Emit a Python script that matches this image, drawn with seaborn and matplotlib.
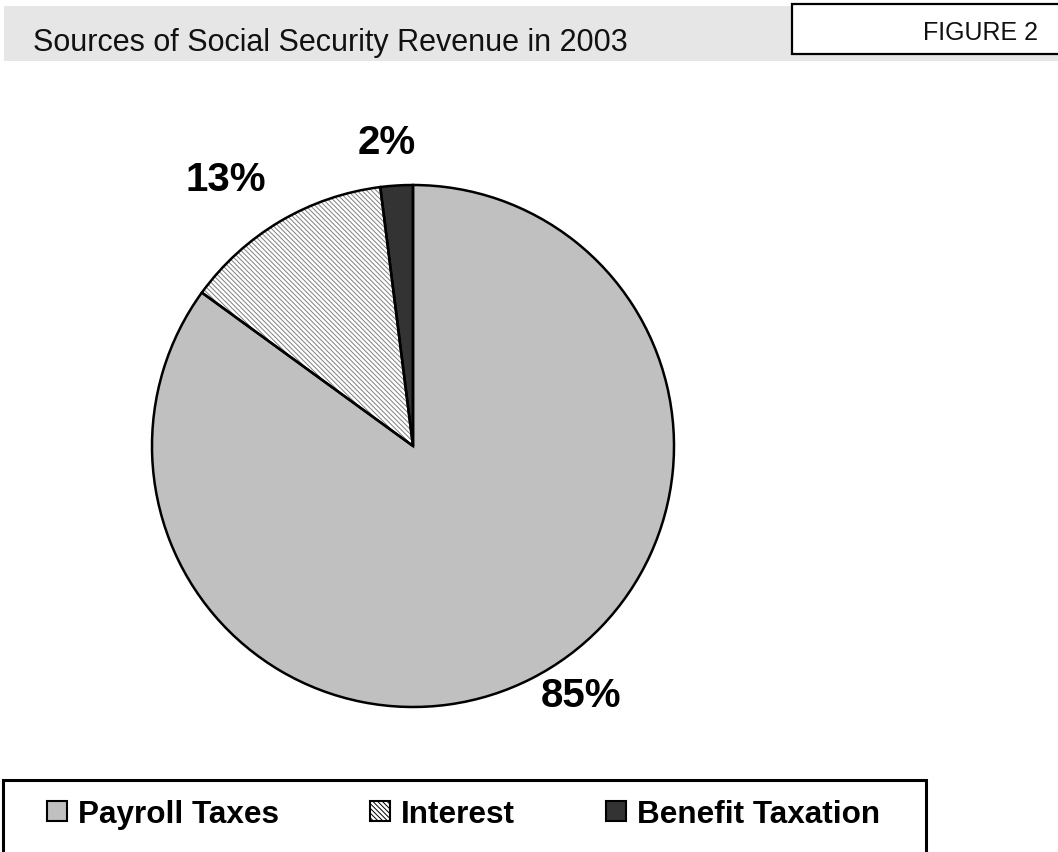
import matplotlib
matplotlib.use("Agg")
import matplotlib.pyplot as plt
from matplotlib.patches import Rectangle, Patch
import numpy as np
import seaborn as sns

# ---- data ----
categories = ["Payroll Taxes", "Interest", "Benefit Taxation"]
shares = [85, 13, 2]
pct_labels = ["85%", "13%", "2%"]
title_text = "Sources of Social Security Revenue in 2003"
figure_tag = "FIGURE 2"

# ---- style ----
sns.set_theme(style="white")
plt.rcParams["font.family"] = ["Liberation Sans", "DejaVu Sans"]
plt.rcParams["hatch.linewidth"] = 0.7
plt.rcParams["text.color"] = "black"
plt.rcParams["legend.labelcolor"] = "black"

face_colors = ["#c0c0c0", "#ffffff", "#333333"]
hatches = [None, "\\\\\\\\\\\\\\", None]
label_layout = [(-56, 1.15), (125, 1.25), (95, 1.17)]  # (angle deg, radius factor)

W, H = 1058, 853
fig = plt.figure(figsize=(W / 100, H / 100), dpi=100)

def fx(x):
    return x / W

def fy(y):
    return 1 - y / H

# header band
fig.patches.append(Rectangle((fx(4), fy(62)), fx(1058 - 4), (62 - 7) / H,
                             transform=fig.transFigure, facecolor="#e6e6e6",
                             edgecolor="none", zorder=0))
fig.patches.append(Rectangle((fx(792), fy(55)), fx(300), (55 - 5) / H,
                             transform=fig.transFigure, facecolor="white",
                             edgecolor="black", linewidth=1.6, zorder=1))
fig.text(fx(33), fy(43), title_text, fontsize=22, va="center", ha="left",
         color="#111111")
fig.text(fx(923), fy(33), figure_tag, fontsize=18, va="center", ha="left",
         color="#111111")

# pie axes
cx, cy, r = 413, 447, 261
ax = fig.add_axes([fx(cx - r), fy(cy + r), 2 * r / W, 2 * r / H])
ax.set_xlim(-1, 1)
ax.set_ylim(-1, 1)
ax.axis("off")

wedges, _ = ax.pie(shares, colors=face_colors, startangle=90, counterclock=False,
                   radius=1, center=(0, 0), frame=True,
                   wedgeprops=dict(linewidth=0, edgecolor="#808080"))
for w, h in zip(wedges, hatches):
    if h:
        w.set_hatch(h)
ax.pie(shares, colors=["none"] * 3, startangle=90, counterclock=False,
       radius=1, center=(0, 0), frame=True,
       wedgeprops=dict(linewidth=1.8, edgecolor="black", fill=False))
ax.set_xlim(-1, 1)
ax.set_ylim(-1, 1)
ax.axis("off")

for lbl, (ang, dist) in zip(pct_labels, label_layout):
    a = np.deg2rad(ang)
    ax.text(dist * np.cos(a), dist * np.sin(a), lbl, fontsize=29, fontweight="bold",
            ha="center", va="center", clip_on=False, color="black")

# legend frame
fig.patches.append(Rectangle((fx(3), fy(900)), fx(926 - 3), (900 - 781) / H,
                             transform=fig.transFigure, facecolor="white",
                             edgecolor="black", linewidth=2.2, zorder=1))
handles = [Patch(facecolor=c, edgecolor="black", hatch=h, linewidth=1.5)
           for c, h in zip(face_colors, hatches)]
leg = fig.legend(handles, categories, loc="center left",
                 bbox_to_anchor=(fx(47), fy(815)), ncol=3, frameon=False,
                 prop=dict(size=22.7, weight="bold"), handlelength=0.62,
                 handleheight=0.62, handletextpad=0.35, columnspacing=2.9,
                 borderpad=0, borderaxespad=0, labelcolor="black")
leg.set_zorder(5)

fig.savefig("out.png", dpi=100)
